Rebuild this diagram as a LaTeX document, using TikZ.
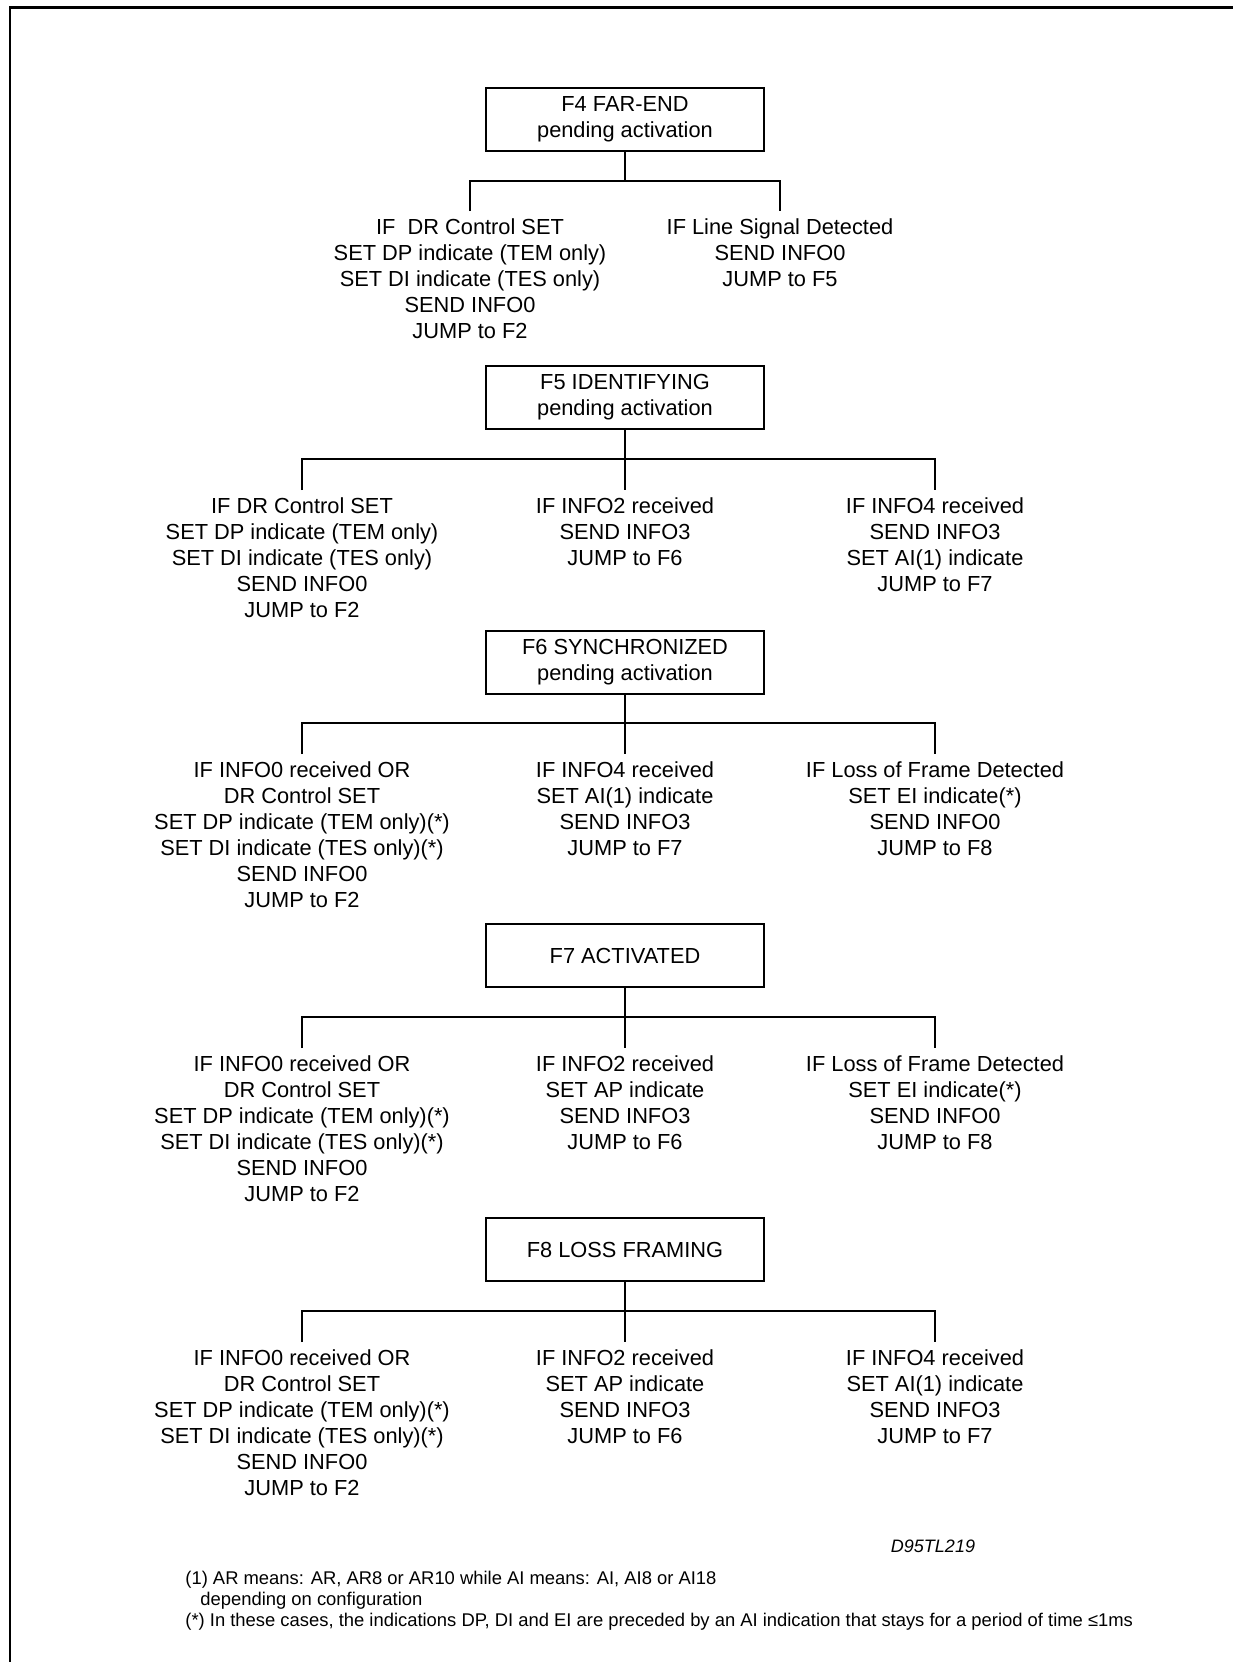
\documentclass[tikz,border=0pt]{standalone}
\usepackage{fontspec}
\setmainfont{Liberation Sans}
\begin{document}
\begin{tikzpicture}[x=0.5pt,y=-0.5pt,
    state/.style={draw,line width=1pt,minimum width=139pt,minimum height=31.5pt,align=center,font=\fontsize{10.9}{13}\selectfont},
    act/.style={anchor=north,align=center,inner sep=3.4pt,font=\fontsize{10.9}{13}\selectfont},
    wire/.style={line width=0.9pt}]
\useasboundingbox (0,0) rectangle (1233,1662);
% frame
\draw[line width=1.5pt] (9,7) -- (1233,7);
\draw[line width=1pt] (10,7) -- (10,1662);

% state F4
\begin{scope}[shift={(0,88)}]
    \node[state] (f4) at (625,31.5) {F4 FAR-END\\pending activation};
    \coordinate (f4bar) at (625,93);
    \node[act] (f4l) at (470,123) {IF\ \ DR Control SET\\SET DP indicate (TEM only)\\SET DI indicate (TES only)\\SEND INFO0\\JUMP to F2};
    \node[act] (f4r) at (780,123) {IF Line Signal Detected\\SEND INFO0\\JUMP to F5};
    \draw[wire] (f4.south) -- (f4bar);
    \draw[wire] (f4l.north) |- (f4bar) -| (f4r.north);
\end{scope}

% state F5
\begin{scope}[shift={(0,366)}]
    \node[state] (f5) at (625,31.5) {F5 IDENTIFYING\\pending activation};
    \coordinate (f5bar) at (625,93);
    \node[act] (f5l) at (302,124) {IF DR Control SET\\SET DP indicate (TEM only)\\SET DI indicate (TES only)\\SEND INFO0\\JUMP to F2};
    \node[act] (f5m) at (625,124) {IF INFO2 received\\SEND INFO3\\JUMP to F6};
    \node[act] (f5r) at (935,124) {IF INFO4 received\\SEND INFO3\\SET AI(1) indicate\\JUMP to F7};
    \draw[wire] (f5.south) -- (f5m.north);
    \draw[wire] (f5l.north) |- (f5bar) -| (f5r.north);
\end{scope}

% state F6
\begin{scope}[shift={(0,631)}]
    \node[state] (f6) at (625,31.5) {F6 SYNCHRONIZED\\pending activation};
    \coordinate (f6bar) at (625,92);
    \node[act] (f6l) at (302,123) {IF INFO0 received OR\\DR Control SET\\SET DP indicate (TEM only)(*)\\SET DI indicate (TES only)(*)\\SEND INFO0\\JUMP to F2};
    \node[act] (f6m) at (625,123) {IF INFO4 received\\SET AI(1) indicate\\SEND INFO3\\JUMP to F7};
    \node[act] (f6r) at (935,123) {IF Loss of Frame Detected\\SET EI indicate(*)\\SEND INFO0\\JUMP to F8};
    \draw[wire] (f6.south) -- (f6m.north);
    \draw[wire] (f6l.north) |- (f6bar) -| (f6r.north);
\end{scope}

% state F7
\begin{scope}[shift={(0,924)}]
    \node[state] (f7) at (625,31.5) {F7 ACTIVATED};
    \coordinate (f7bar) at (625,93);
    \node[act] (f7l) at (302,124) {IF INFO0 received OR\\DR Control SET\\SET DP indicate (TEM only)(*)\\SET DI indicate (TES only)(*)\\SEND INFO0\\JUMP to F2};
    \node[act] (f7m) at (625,124) {IF INFO2 received\\SET AP indicate\\SEND INFO3\\JUMP to F6};
    \node[act] (f7r) at (935,124) {IF Loss of Frame Detected\\SET EI indicate(*)\\SEND INFO0\\JUMP to F8};
    \draw[wire] (f7.south) -- (f7m.north);
    \draw[wire] (f7l.north) |- (f7bar) -| (f7r.north);
\end{scope}

% state F8
\begin{scope}[shift={(0,1218)}]
    \node[state] (f8) at (625,31.5) {F8 LOSS FRAMING};
    \coordinate (f8bar) at (625,93);
    \node[act] (f8l) at (302,124) {IF INFO0 received OR\\DR Control SET\\SET DP indicate (TEM only)(*)\\SET DI indicate (TES only)(*)\\SEND INFO0\\JUMP to F2};
    \node[act] (f8m) at (625,124) {IF INFO2 received\\SET AP indicate\\SEND INFO3\\JUMP to F6};
    \node[act] (f8r) at (935,124) {IF INFO4 received\\SET AI(1) indicate\\SEND INFO3\\JUMP to F7};
    \draw[wire] (f8.south) -- (f8m.north);
    \draw[wire] (f8l.north) |- (f8bar) -| (f8r.north);
\end{scope}

% figure code and notes
\node[font=\fontsize{9}{10.5}\selectfont\itshape] (code) at (933,1546) {D95TL219};
\node[anchor=north west,inner sep=0pt,align=left,font=\fontsize{9.2}{10.5}\selectfont] (notes) at (185,1571)
    {(1) AR means: AR, AR8 or AR10 while AI means: AI, AI8 or AI18\\
     \hspace*{7.5pt}depending on configuration\\
     (*) In these cases, the indications DP, DI and EI are preceded by an AI indication that stays for a period of time ≤1ms};
\end{tikzpicture}
\end{document}
